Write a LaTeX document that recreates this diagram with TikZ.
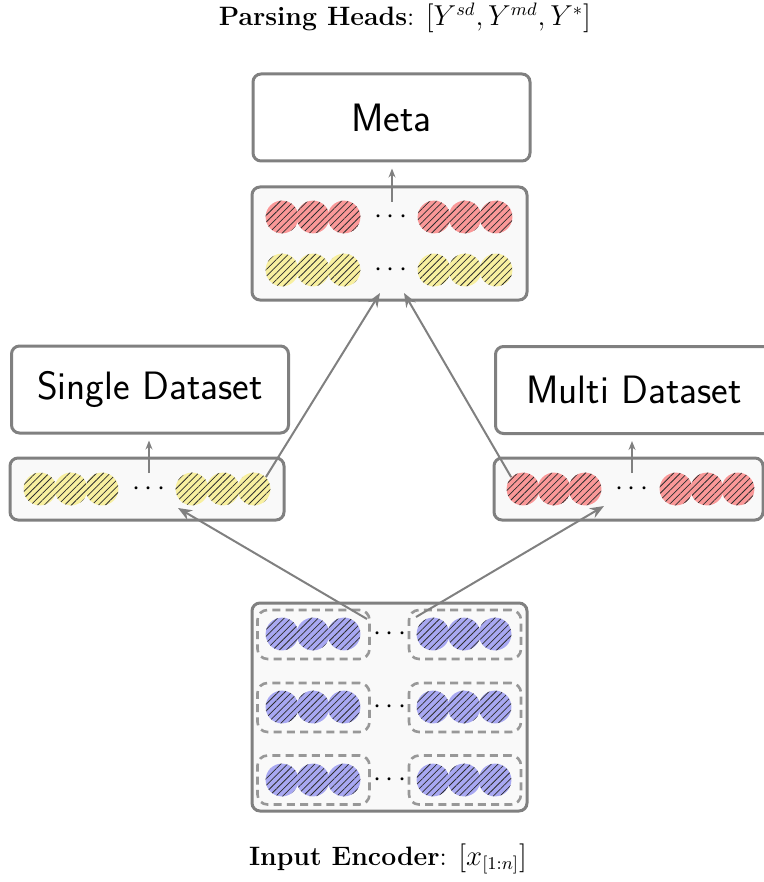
\documentclass[tikz,border=0pt]{standalone}
\usetikzlibrary{arrows.meta,patterns.meta,calc}

\definecolor{boxgray}{RGB}{128,128,128}
\definecolor{dashgray}{RGB}{152,152,152}
\definecolor{featfill}{RGB}{249,249,249}
\definecolor{beadred}{RGB}{250,152,152}
\definecolor{beadyellow}{RGB}{248,240,160}
\definecolor{beadblue}{RGB}{168,168,242}
\definecolor{hatch}{RGB}{45,45,45}

\tikzset{
  headbox/.style={draw=boxgray, line width=1.5pt, rounded corners=4pt, fill=white,
    minimum width=138.5pt, minimum height=43.5pt,
    font=\fontsize{19.8}{23}\selectfont\sffamily},
  featbox/.style={draw=boxgray, line width=1.5pt, rounded corners=4pt, fill=featfill, inner sep=0pt},
  dashbox/.style={draw=dashgray, line width=1.3pt, rounded corners=5pt, dash pattern=on 4pt off 2.6pt,
    fill=featfill, inner sep=0pt, minimum width=56pt, minimum height=24.5pt},
  bead/.style={circle, inner sep=0pt, minimum size=16.4pt, fill=#1,
    postaction={pattern={Lines[angle=45,distance=2.4pt,line width=0.38pt]}, pattern color=hatch}},
  ellip/.style={anchor=base, inner sep=0pt, font=\fontsize{13.5}{16}\selectfont},
  caption/.style={anchor=base, inner sep=0pt, font=\fontsize{13.3}{16}\selectfont},
  bigarrow/.style={draw=boxgray, line width=1pt, -{Stealth[length=7pt,width=5.5pt]}},
  smallarrow/.style={draw=boxgray, line width=0.7pt, -{Stealth[length=4.5pt,width=3.5pt]}, shorten >=3pt},
}

% three overlapping hatched beads: name prefix, centre x, y, colour
\newcommand{\beadtrio}[4]{%
  \node[bead=#4] (#1a) at ({#2-31},#3) {};
  \node[bead=#4] (#1b) at (#2,#3) {};
  \node[bead=#4] (#1c) at ({#2+31},#3) {};}

\begin{document}
\begin{tikzpicture}[x=0.5pt,y=-0.5pt]
\useasboundingbox (0,0) rectangle (764,882);

% captions
\node[caption] (heads) at (405,26) {\textbf{Parsing Heads}: $[Y^{sd}, Y^{md}, Y^*]$};
\node[caption] (input) at (388,865) {\textbf{Input Encoder}: $[x_{[1:n]}]$};

% parsing heads
\node[headbox] (meta) at (391.5,117.5) {Meta};
\node[headbox] (sd) at (150,389.5) {Single Dataset};
\node[headbox] (md) at (634,390) {Multi Dataset};

% feature containers
\node[featbox, minimum width=137.5pt, minimum height=56.5pt] (mf) at (389.5,243.5) {};
\node[featbox, minimum width=137pt, minimum height=31pt] (sf) at (147,489) {};
\node[featbox, minimum width=134.5pt, minimum height=31pt] (mdf) at (628.5,489) {};
\node[featbox, minimum width=137.5pt, minimum height=104pt] (enc) at (389.5,707) {};

% encoder groups
\foreach \r/\y in {1/634.5,2/707.5,3/780}{
  \node[dashbox] (gl\r) at (313.5,\y) {};
  \node[dashbox] (gr\r) at (465,\y) {};
}

% meta features
\beadtrio{mra}{313}{217}{beadred}
\beadtrio{mrb}{465}{217}{beadred}
\beadtrio{mya}{313}{270}{beadyellow}
\beadtrio{myb}{465}{270}{beadyellow}
\node[ellip] (mdots1) at (391,223) {$\cdots$};
\node[ellip] (mdots2) at (391,276) {$\cdots$};

% single dataset features
\beadtrio{sa}{71}{489}{beadyellow}
\beadtrio{sb}{223}{489}{beadyellow}
\node[ellip] (sdots) at (149,495) {$\cdots$};

% multi dataset features
\beadtrio{da}{554}{489}{beadred}
\beadtrio{db}{707}{489}{beadred}
\node[ellip] (ddots) at (632,495) {$\cdots$};

% encoder features
\foreach \r/\y in {1/634,2/707,3/780}{
  \beadtrio{el\r}{313}{\y}{beadblue}
  \beadtrio{er\r}{464}{\y}{beadblue}
  \node[ellip] (edots\r) at (390,{\y+6}) {$\cdots$};
}

% short arrows into the heads
\coordinate (mfup) at (392,202);
\coordinate (sfup) at (149,473);
\coordinate (dfup) at (632,473);
\draw[smallarrow] (mfup) -- (mfup |- meta.south);
\draw[smallarrow] (sfup) -- (sfup |- sd.south);
\draw[smallarrow] (dfup) -- (dfup |- md.south);

% long arrows
\coordinate (encl) at (367,619);
\coordinate (encr) at (416,617);
\coordinate (sfin) at (178,508);
\coordinate (dfin) at (604,506);
\coordinate (mfinl) at (380,293);
\coordinate (mfinr) at (404,293);
\draw[bigarrow] (encl) -- (sfin);
\draw[bigarrow] (encr) -- (dfin);
\draw[bigarrow] (sbc.north east) -- (mfinl);
\draw[bigarrow] (daa.north west) -- (mfinr);
\end{tikzpicture}
\end{document}
